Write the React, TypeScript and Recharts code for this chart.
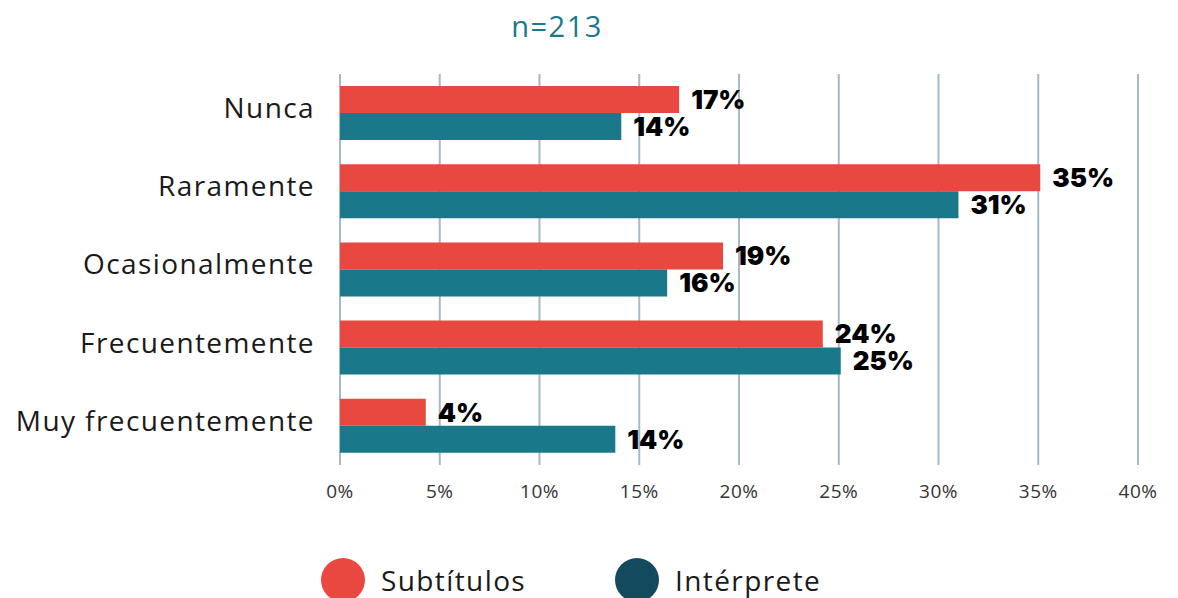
import React from "react";
import {
  BarChart,
  Bar,
  XAxis,
  YAxis,
  CartesianGrid,
  LabelList,
} from "recharts";

const categories = ["Nunca", "Raramente", "Ocasionalmente", "Frecuentemente", "Muy frecuentemente"];
const subtitulos = [17.0, 35.1, 19.2, 24.2, 4.3];
const interprete = [14.1, 31.0, 16.4, 25.1, 13.8];
const xTicks = [0, 5, 10, 15, 20, 25, 30, 35, 40];
const seriesNames = ["Subtítulos", "Intérprete"];
const sampleLabel = "n=213";

const RED = "#e8483f";
const TEAL = "#19788a";
const TEAL_DARK = "#134a5e";
const GRID = "#a5bac6";
const FONT = "'Open Sans', sans-serif";

const data = categories.map((name, i) => ({
  name,
  subtitulos: subtitulos[i],
  interprete: interprete[i],
}));

const pct = (v: unknown) => `${Math.round(Number(v))}%`;

const labelStyle = {
  fontFamily: "Inter, sans-serif",
  fontWeight: 900,
  fontSize: 26,
  fill: "#000",
};

// category names, nudged a little above the band centre like the original
function CategoryTick(props: any) {
  const { x, y, payload } = props;
  return (
    <text
      x={x}
      y={y - 5}
      dy="0.35em"
      textAnchor="end"
      fontSize={28}
      letterSpacing={1.4}
      fill="#1a1a1a"
      fontFamily={FONT}
    >
      {payload.value}
    </text>
  );
}

export default function App() {
  return (
    <div style={{ position: "absolute", left: 0, top: 0, width: 1178, height: 598, background: "#fff" }}>
      <BarChart
        width={1178}
        height={598}
        data={data}
        layout="vertical"
        margin={{ top: 74, right: 40, left: 0, bottom: 93 }}
        barCategoryGap="31%"
        barGap={0}
      >
        <CartesianGrid horizontal={false} stroke={GRID} strokeWidth={2} />
        <XAxis
          type="number"
          domain={[0, 40]}
          ticks={xTicks}
          tickFormatter={(v) => `${v}%`}
          axisLine={false}
          tickLine={false}
          tickMargin={14}
          height={40}
          tick={{ fontSize: 19, fill: "#333", fontFamily: FONT, letterSpacing: 0.5 }}
        />
        <YAxis
          type="category"
          dataKey="name"
          width={340}
          axisLine={false}
          tickLine={false}
          tickMargin={19}
          tick={<CategoryTick />}
        />
        <Bar dataKey="subtitulos" fill={RED} barSize={27} isAnimationActive={false}>
          <LabelList dataKey="subtitulos" position="right" offset={12} formatter={pct} style={labelStyle} />
        </Bar>
        <Bar dataKey="interprete" fill={TEAL} barSize={27} isAnimationActive={false}>
          <LabelList dataKey="interprete" position="right" offset={12} formatter={pct} style={labelStyle} />
        </Bar>
      </BarChart>
      <svg
        width={1178}
        height={598}
        style={{ position: "absolute", left: 0, top: 0, pointerEvents: "none" }}
      >
        <text x={557} y={37} textAnchor="middle" fontSize={29} letterSpacing={1.5} fill={TEAL} fontFamily={FONT}>
          {sampleLabel}
        </text>
        <circle cx={343} cy={580} r={22} fill={RED} />
        <text x={381} y={591} fontSize={28} letterSpacing={1.4} fill="#1a1a1a" fontFamily={FONT}>
          {seriesNames[0]}
        </text>
        <circle cx={637} cy={580} r={22} fill={TEAL_DARK} />
        <text x={675} y={591} fontSize={28} letterSpacing={1.4} fill="#1a1a1a" fontFamily={FONT}>
          {seriesNames[1]}
        </text>
      </svg>
    </div>
  );
}
